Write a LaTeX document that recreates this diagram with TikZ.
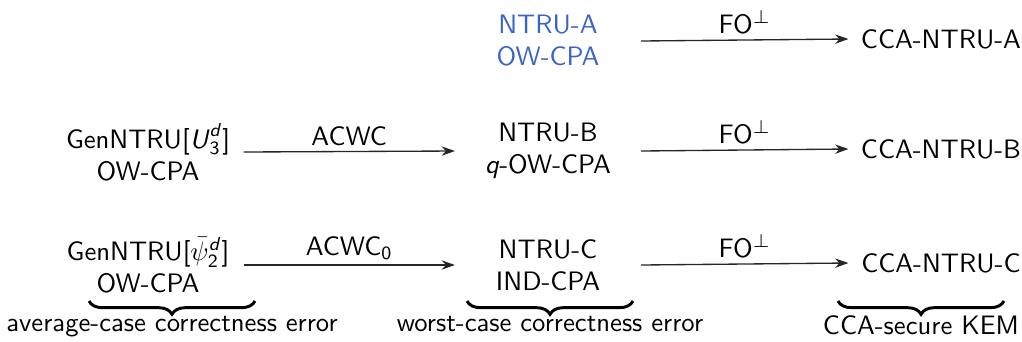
\documentclass[tikz,border=0pt]{standalone}
\usepackage{amsmath}
\usetikzlibrary{decorations.pathreplacing,arrows.meta}
\definecolor{ablue}{RGB}{59,99,196}
\newcommand{\si}[1]{\textsf{\textit{#1}}}
\begin{document}
\begin{tikzpicture}[x=0.375pt,y=-0.375pt,
  every node/.style={font=\sffamily, align=center},
  lnode/.style={minimum width=71.25pt, inner sep=0pt},
  mnode/.style={minimum width=69.4pt, inner sep=0pt},
  cnode/.style={minimum width=69pt, inner sep=0pt},
  arr/.style={-{Stealth[length=5pt,width=3.5pt]}, line width=0.5pt, draw=black!85},
  lbl/.style={font=\sffamily, inner sep=1pt, above=1pt},
  br/.style={decorate, decoration={brace, mirror, amplitude=5pt}, line width=1.1pt}]
\useasboundingbox (0,0) rectangle (1022,341);
% row A
\node[mnode, text=ablue] (na) at (548,41) {NTRU-A\\OW-CPA};
\node[cnode] (ca) at (941,39) {CCA-NTRU-A};
% row B
\node[lnode] (gb) at (148,152) {GenNTRU[$\si{U}^{\si{d}}_{\mathsf{3}}$]\\OW-CPA};
\node[mnode] (nb) at (548,151) {NTRU-B\\$\si{q}$-OW-CPA};
\node[cnode] (cb) at (941,149) {CCA-NTRU-B};
% row C
\node[lnode] (gc) at (148,265) {GenNTRU[$\bar{\psi}^{\si{d}}_{\mathsf{2}}$]\\OW-CPA};
\node[mnode] (nc) at (548,265) {NTRU-C\\IND-CPA};
\node[cnode] (cc) at (941,263) {CCA-NTRU-C};
% arrows
\draw[arr] (na.east) -- (ca.west) node[midway, lbl] {FO$^{\perp}$};
\draw[arr] (gb.east) -- (nb.west) node[midway, lbl] {ACWC};
\draw[arr] (nb.east) -- (cb.west) node[midway, lbl] {FO$^{\perp}$};
\draw[arr] (gc.east) -- (nc.west) node[midway, lbl] {ACWC$_{\mathsf{0}}$};
\draw[arr] (nc.east) -- (cc.west) node[midway, lbl] {FO$^{\perp}$};
% braces
\coordinate (b1l) at (89,301); \coordinate (b1r) at (255,301);
\coordinate (b2l) at (467,301); \coordinate (b2r) at (633,301);
\coordinate (b3l) at (838,301); \coordinate (b3r) at (1004,301);
\draw[br] (b1l) -- (b1r) node[midway, below=4pt, inner sep=1pt] {average-case correctness error};
\draw[br] (b2l) -- (b2r) node[midway, below=4pt, inner sep=1pt] {worst-case correctness error};
\draw[br] (b3l) -- (b3r) node[midway, below=4pt, inner sep=1pt] {CCA-secure KEM};
\end{tikzpicture}
\end{document}
